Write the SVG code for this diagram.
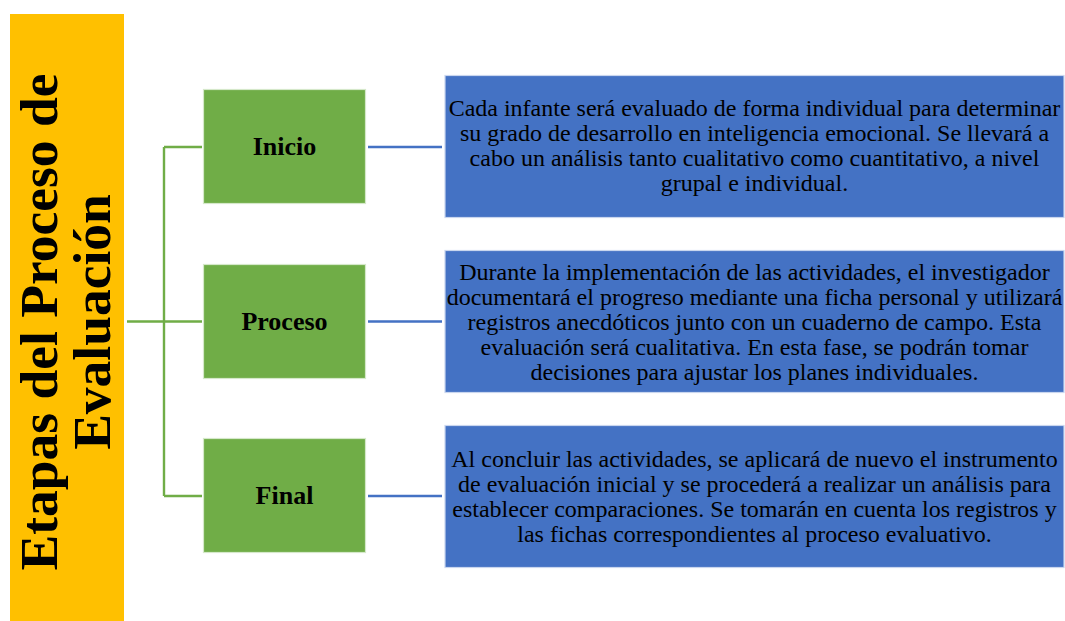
<svg xmlns="http://www.w3.org/2000/svg" width="1065" height="621" viewBox="0 0 1065 621">
<style>
.stage{fill:#70AD47;stroke:#D5E8CA;stroke-width:1.2}
.desc{fill:#4472C4;stroke:#C9D6EE;stroke-width:1.2}
.lbl{font-family:"Liberation Serif","Times New Roman",serif;font-weight:bold;font-size:26px;fill:#000;text-anchor:middle}
.txt{font-family:"Liberation Serif","Times New Roman",serif;font-size:24px;fill:#000;text-anchor:middle}
.title{font-family:"Liberation Serif","Times New Roman",serif;font-weight:bold;font-size:53.5px;fill:#000;text-anchor:middle}
.g{stroke:#70AD47;stroke-width:2.4;fill:none}
.b{stroke:#4472C4;stroke-width:2.6;fill:none}
</style>
<rect width="1065" height="621" fill="#fff"/>
<g id="title">
<rect x="10" y="14" width="114" height="607" fill="#FFC000"/>
<text class="title" transform="translate(57,322) rotate(-90)"><tspan x="0" y="0">Etapas del Proceso de</tspan><tspan x="0" y="53">Evaluación</tspan></text>
</g>
<g id="connectors">
<path class="g" d="M127 321.5H202M164 147V496M164 147H202M164 496H202"/>
<path class="b" d="M368 147H442M368 321.5H442M368 496H442"/>
</g>
<g id="inicio">
<rect class="stage" x="203.5" y="89.5" width="162" height="114"/>
<text class="lbl" x="284.5" y="155">Inicio</text>
</g>
<g id="proceso">
<rect class="stage" x="203.5" y="264.5" width="162" height="114"/>
<text class="lbl" x="284.5" y="330">Proceso</text>
</g>
<g id="final">
<rect class="stage" x="203.5" y="438.5" width="162" height="114"/>
<text class="lbl" x="284.5" y="504">Final</text>
</g>
<g id="desc-inicio">
<rect class="desc" x="445" y="75.5" width="619" height="142"/>
<text class="txt"><tspan x="754.5" y="116">Cada infante será evaluado de forma individual para determinar</tspan><tspan x="754.5" y="141">su grado de desarrollo en inteligencia emocional. Se llevará a</tspan><tspan x="754.5" y="166">cabo un análisis tanto cualitativo como cuantitativo, a nivel</tspan><tspan x="754.5" y="191">grupal e individual.</tspan></text>
</g>
<g id="desc-proceso">
<rect class="desc" x="445" y="250.5" width="619" height="142"/>
<text class="txt"><tspan x="754.5" y="280">Durante la implementación de las actividades, el investigador</tspan><tspan x="754.5" y="305">documentará el progreso mediante una ficha personal y utilizará</tspan><tspan x="754.5" y="330">registros anecdóticos junto con un cuaderno de campo. Esta</tspan><tspan x="754.5" y="355">evaluación será cualitativa. En esta fase, se podrán tomar</tspan><tspan x="754.5" y="380">decisiones para ajustar los planes individuales.</tspan></text>
</g>
<g id="desc-final">
<rect class="desc" x="445" y="425.5" width="619" height="142"/>
<text class="txt"><tspan x="754.5" y="467">Al concluir las actividades, se aplicará de nuevo el instrumento</tspan><tspan x="754.5" y="492">de evaluación inicial y se procederá a realizar un análisis para</tspan><tspan x="754.5" y="517">establecer comparaciones. Se tomarán en cuenta los registros y</tspan><tspan x="754.5" y="542">las fichas correspondientes al proceso evaluativo.</tspan></text>
</g>
</svg>
